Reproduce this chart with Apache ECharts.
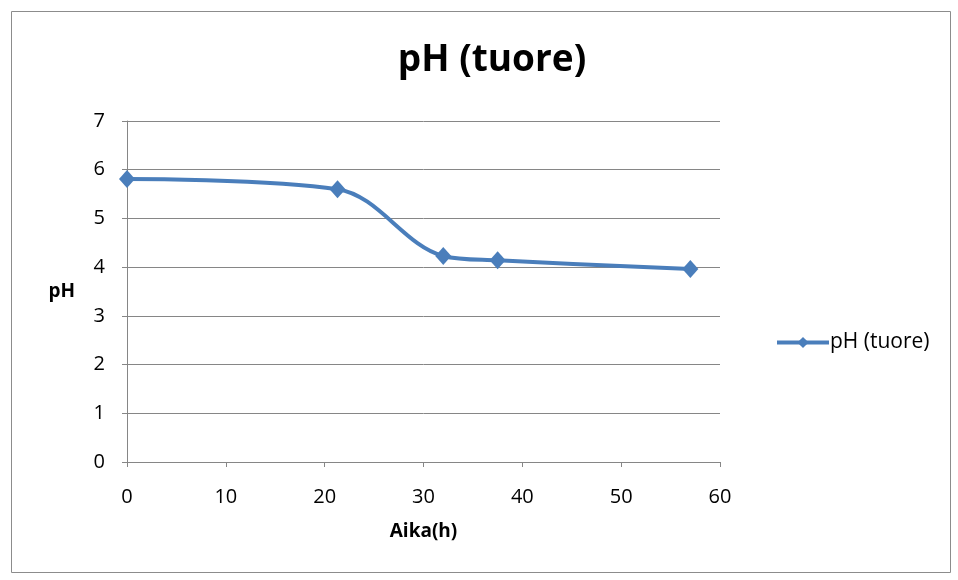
<!DOCTYPE html>
<html>
<head>
<meta charset="utf-8">
<script src="https://cdn.jsdelivr.net/npm/echarts@6/dist/echarts.min.js"></script>
<style>html,body{margin:0;padding:0;background:#fff}#c{width:958px;height:580px}</style>
</head>
<body>
<div id="c"></div>
<script>
const seriesName = 'pH (tuore)';
const hours = [0, 21.3, 32, 37.5, 57];
const phValues = [5.81, 5.6, 4.23, 4.14, 3.96];
const xTicks = [0, 10, 20, 30, 40, 50, 60];
const yTicks = [0, 1, 2, 3, 4, 5, 6, 7];

const font = '"Open Sans", "Noto Sans", sans-serif';
const chart = echarts.init(document.getElementById('c'));
chart.setOption({
  animation: false,
  backgroundColor: '#fff',
  graphic: [{
    type: 'rect', left: 9, top: 9,
    shape: { width: 939, height: 561 },
    style: { fill: 'none', stroke: '#8c8c8c', lineWidth: 1 }
  }],
  title: {
    text: seriesName, left: 487, top: 37, textAlign: 'center',
    textStyle: { fontFamily: font, fontSize: 37, fontWeight: 'bold', color: '#000' }
  },
  legend: {
    left: 770, top: 327, orient: 'vertical',
    itemWidth: 52, itemHeight: 14, itemGap: 4,
    data: [seriesName],
    lineStyle: { width: 4 },
    textStyle: { fontFamily: font, fontSize: 21, color: '#000', padding: [0, 0, 0, -4] }
  },
  grid: { left: 127, right: 238, top: 121, bottom: 118 },
  xAxis: {
    type: 'value', min: xTicks[0], max: xTicks[xTicks.length - 1], interval: 10,
    name: 'Aika(h)', nameLocation: 'middle', nameGap: 60,
    nameTextStyle: { fontFamily: font, fontSize: 19, fontWeight: 'bold', color: '#000' },
    axisLine: { lineStyle: { color: '#868686', width: 1 } },
    axisTick: { show: true, length: 5, lineStyle: { color: '#868686' } },
    axisLabel: { fontFamily: font, fontSize: 20, color: '#000', margin: 25 },
    splitLine: { show: false }
  },
  yAxis: {
    type: 'value', min: yTicks[0], max: yTicks[yTicks.length - 1], interval: 1,
    name: 'pH', nameLocation: 'middle', nameGap: 52, nameRotate: 0,
    nameTextStyle: { fontFamily: font, fontSize: 19, fontWeight: 'bold', color: '#000' },
    axisLine: { show: true, lineStyle: { color: '#868686', width: 1 } },
    axisTick: { show: true, length: 5, lineStyle: { color: '#868686' } },
    axisLabel: { fontFamily: font, fontSize: 20, color: '#000', margin: 22 },
    splitLine: { show: true, lineStyle: { color: '#868686', width: 1 } }
  },
  series: [{
    name: seriesName, type: 'line',
    data: hours.map((h, i) => [h, phValues[i]]),
    smooth: 0.35,
    symbol: 'diamond', symbolSize: [16, 18],
    lineStyle: { color: '#4a7ebb', width: 4 },
    itemStyle: { color: '#4a7ebb' }
  }]
});
</script>
</body>
</html>
